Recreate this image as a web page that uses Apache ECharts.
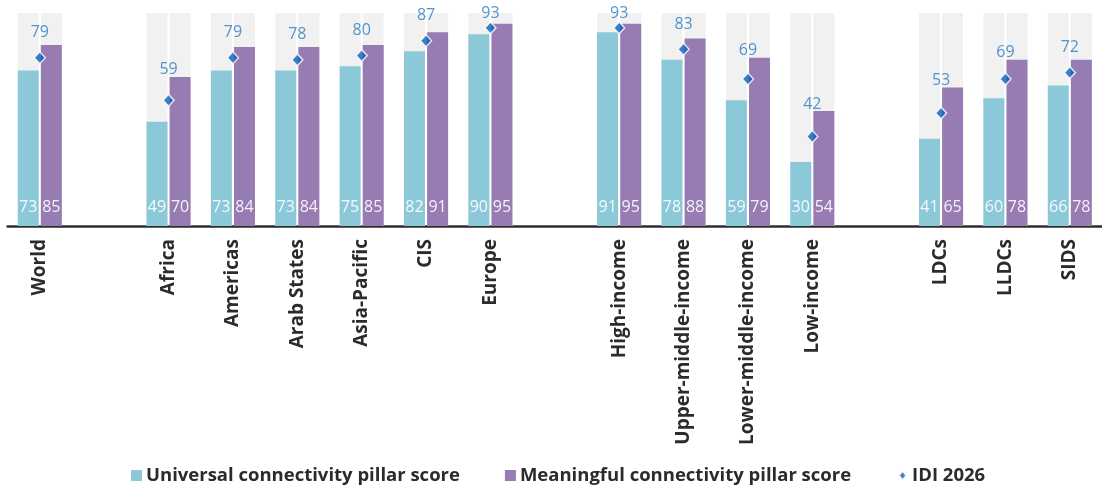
<!DOCTYPE html>
<html>
<head>
<meta charset="utf-8">
<script src="https://cdn.jsdelivr.net/npm/echarts@6/dist/echarts.min.js"></script>
<style>
  html, body { margin: 0; padding: 0; background: #ffffff; }
  #chart { width: 1102px; height: 493px; }
</style>
</head>
<body>
<div id="chart"></div>
<script>
// Regions and groupings; empty names are spacer slots between groups
const categories = ['World', '', 'Africa', 'Americas', 'Arab States', 'Asia-Pacific', 'CIS', 'Europe', '',
  'High-income', 'Upper-middle-income', 'Lower-middle-income', 'Low-income', '', 'LDCs', 'LLDCs', 'SIDS'];
const universalScore = [73, null, 49, 73, 73, 75, 82, 90, null, 91, 78, 59, 30, null, 41, 60, 66];
const meaningfulScore = [85, null, 70, 84, 84, 85, 91, 95, null, 95, 88, 79, 54, null, 65, 78, 78];
const idi2026 = [79, null, 59, 79, 78, 80, 87, 93, null, 93, 83, 69, 42, null, 53, 69, 72];
const scoreMax = 100;

const FONT = '"Open Sans", Lato, "Noto Sans", sans-serif';
const CYAN = '#8bc9d9';
const PURPLE = '#967cb2';
const TRACK = '#f1f1f1';
const IDI_BLUE = '#0a5cb8';
const IDI_LABEL = '#2a7cc2';

// full-height track behind each bar (only for real categories)
const track = categories.map(c => (c ? scoreMax : null));

const valueLabel = {
  show: true,
  position: 'insideBottom',
  distance: 11,
  color: 'rgba(255,255,255,0.9)',
  fontFamily: FONT,
  fontSize: 16,
  fontWeight: 'normal'
};

const chart = echarts.init(document.getElementById('chart'), null, { renderer: 'canvas' });

// IDI value sits just above the taller bar, kept clear of the diamond and the top edge
function idiLabelLayout(params) {
  const i = params.dataIndex;
  const barTop = chart.convertToPixel({ yAxisIndex: 0 }, meaningfulScore[i]);
  const diamondY = params.rect.y + params.rect.height / 2;
  const centerY = Math.max(13, Math.min(barTop - 7, diamondY - 25));
  return {
    x: params.rect.x + params.rect.width / 2,
    y: centerY,
    align: 'center',
    verticalAlign: 'middle'
  };
}

chart.setOption({
  animation: false,
  grid: { left: 7.6, right: -7.4, top: 13, bottom: 267, containLabel: false },
  legend: {
    top: 466,
    left: 131,
    padding: 0,
    itemWidth: 11,
    itemHeight: 11,
    itemGap: 45,
    textStyle: { fontFamily: FONT, fontSize: 18.5, fontWeight: 'bold', color: '#2b2b2b', padding: [0, 0, 0, -1] },
    data: [
      { name: 'Universal connectivity pillar score', icon: 'rect' },
      { name: 'Meaningful connectivity pillar score', icon: 'rect' },
      { name: 'IDI 2026', icon: 'path://M6,1L10,6L6,11L2,6Z M0,0L0.01,0L0,0.01Z M12,12L11.99,12L12,11.99Z' }
    ]
  },
  xAxis: [
    {
      type: 'category',
      data: categories,
      axisTick: { show: false },
      axisLine: { show: true, lineStyle: { color: '#2e2e2e', width: 2.5 } },
      axisLabel: {
        interval: 0,
        rotate: 90,
        margin: 13,
        fontFamily: FONT,
        fontSize: 19,
        fontWeight: 'bold',
        color: '#2b2b2b'
      }
    },
    {
      type: 'category',
      data: categories,
      show: false
    }
  ],
  yAxis: { type: 'value', min: 0, max: scoreMax, show: false },
  series: [
    {
      name: 'track-u', type: 'bar', xAxisIndex: 1, data: track,
      barWidth: 21, barGap: '10%', z: 1, silent: true,
      itemStyle: { color: TRACK }
    },
    {
      name: 'track-m', type: 'bar', xAxisIndex: 1, data: track,
      barWidth: 21, barGap: '10%', z: 1, silent: true,
      itemStyle: { color: TRACK }
    },
    {
      name: 'Universal connectivity pillar score', type: 'bar', xAxisIndex: 0, data: universalScore,
      barWidth: 21, barGap: '10%', z: 2,
      itemStyle: { color: CYAN },
      label: valueLabel
    },
    {
      name: 'Meaningful connectivity pillar score', type: 'bar', xAxisIndex: 0, data: meaningfulScore,
      barWidth: 21, barGap: '10%', z: 2,
      itemStyle: { color: PURPLE },
      label: valueLabel
    },
    {
      name: 'IDI 2026', type: 'scatter', xAxisIndex: 0, data: idi2026,
      symbol: 'diamond', symbolSize: [11, 12], z: 5,
      itemStyle: { color: IDI_BLUE, borderColor: '#ffffff', borderWidth: 1.5 },
      label: {
        show: true, position: 'top', distance: 10,
        color: IDI_LABEL, fontFamily: FONT, fontSize: 16
      },
      labelLayout: idiLabelLayout
    }
  ]
});
</script>
</body>
</html>
